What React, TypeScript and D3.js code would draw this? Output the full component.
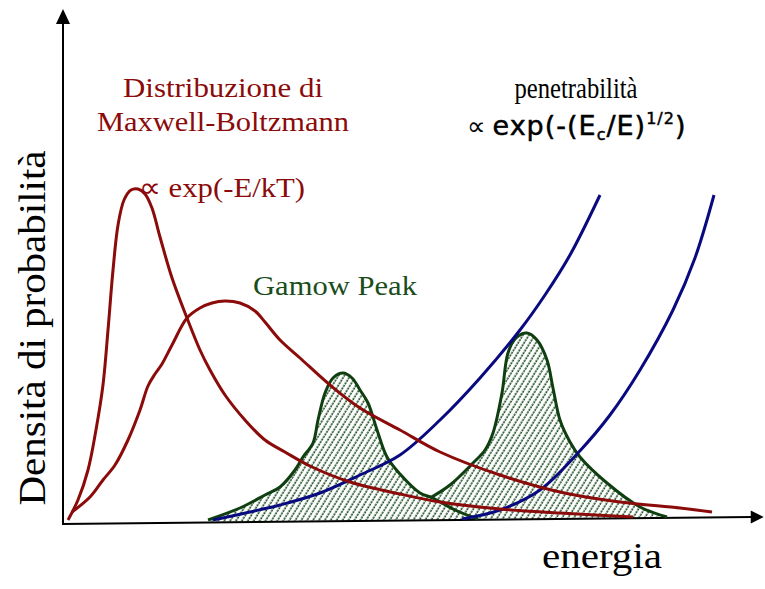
import React from "react";
import * as d3 from "d3";

// Energy (0-100 arbitrary units) and probability density (0-100 arbitrary units)
const mbNarrowE = [0.73, 2.18, 3.64, 4.8, 5.82, 6.55, 7.28, 8.01, 8.88, 9.9, 10.92, 11.94, 12.95, 14.12, 15.87, 18.05, 19.94, 21.4, 23.58, 26.49, 29.4, 32.31, 35.95, 41.78, 49.05, 54.88, 63.61, 72.34, 82.97];
const mbNarrowP = [0.8, 4.8, 10.8, 18.8, 27.8, 38.8, 50.8, 59.8, 64.8, 66.8, 67.0, 66.0, 63.2, 57.4, 49.2, 41.2, 34.8, 30.8, 25.8, 20.8, 16.8, 14.4, 11.6, 8.4, 6.0, 4.4, 3.0, 2.2, 1.4];

const mbWideE = [1.31, 3.93, 5.82, 7.57, 9.46, 11.21, 12.37, 13.39, 14.41, 15.87, 18.05, 19.94, 21.69, 23.58, 25.76, 27.95, 29.4, 31.59, 34.5, 38.86, 43.23, 49.05, 54.88, 63.61, 72.34, 81.08, 89.81, 94.47];
const mbWideP = [2.4, 5.4, 8.8, 11.8, 16.8, 22.8, 27.6, 30.0, 32.0, 35.8, 41.2, 43.2, 44.2, 44.6, 44.2, 42.6, 40.4, 36.8, 33.2, 27.8, 23.2, 18.8, 14.4, 9.8, 6.4, 4.4, 3.2, 2.4];

const pen1E = [21.83, 27.22, 31.59, 37.41, 43.23, 49.05, 54.88, 60.7, 66.52, 70.16, 73.8, 78.17];
const pen1P = [0.8, 2.4, 3.8, 6.2, 9.8, 13.8, 20.8, 29.2, 38.8, 45.8, 53.8, 65.8];

const pen2E = [58.08, 63.61, 69.43, 74.96, 79.62, 83.99, 88.79, 91.99, 94.76];
const pen2P = [1.0, 2.8, 6.8, 14.2, 21.8, 30.8, 42.8, 53.2, 65.8];

const gamow1E = [21.11, 25.76, 29.4, 31.59, 33.77, 34.93, 36.39, 37.12, 38.14, 39.3, 40.76, 42.07, 43.23, 44.4, 45.71, 47.16, 49.05, 51.97, 53.86, 57.06, 60.41];
const gamow1P = [0.8, 3.2, 5.8, 7.4, 10.8, 13.4, 16.2, 20.8, 26.2, 29.2, 30.2, 29.2, 26.8, 24.2, 18.8, 13.4, 10.0, 6.2, 5.2, 2.8, 1.0];

const gamow2E = [53.42, 56.33, 59.68, 61.43, 62.59, 63.9, 64.77, 65.94, 67.54, 68.99, 70.45, 71.32, 72.34, 73.8, 75.25, 79.18, 83.99, 87.92];
const gamow2P = [5.2, 7.8, 12.2, 14.8, 18.2, 26.2, 34.2, 37.2, 38.2, 36.8, 32.8, 27.2, 20.8, 16.4, 13.4, 8.2, 3.4, 1.4];

// axis extents (data units): x axis runs slightly uphill
const xAxisE = [0, 102];
const xAxisP = [0, 1.4];
const yAxisTop = 103;

const RED = "#8b0a0a";
const BLUE = "#0a0a80";
const GREEN = "#0f3f10";
const GREEN_TEXT = "#1b4d1b";

type Pt = [number, number];
const zip = (a: number[], b: number[]): Pt[] => a.map((v, i) => [v, b[i]]);

export default function App() {
  const W = 765;
  const H = 589;
  const x = d3.scaleLinear().domain([0, 100]).range([63, 750]);
  const y = d3.scaleLinear().domain([0, 100]).range([524, 24]);

  const axisBase = (e: number) =>
    xAxisP[0] + ((xAxisP[1] - xAxisP[0]) * (e - xAxisE[0])) / (xAxisE[1] - xAxisE[0]);

  const line = d3
    .line<Pt>()
    .x((d) => x(d[0]))
    .y((d) => y(d[1]))
    .curve(d3.curveCatmullRom.alpha(0.5));

  const area = d3
    .area<Pt>()
    .x((d) => x(d[0]))
    .y0((d) => y(axisBase(d[0])))
    .y1((d) => y(d[1]))
    .curve(d3.curveCatmullRom.alpha(0.5));

  const g1 = zip(gamow1E, gamow1P);
  const g2 = zip(gamow2E, gamow2P);

  const x0 = x(0);
  const y0 = y(0);
  const xEnd = x(xAxisE[1]);
  const yEndX = y(xAxisP[1]);
  const yTop = y(yAxisTop);

  const serif = "'Liberation Serif', 'Times New Roman', serif";
  const sans = "'DejaVu Sans', Verdana, sans-serif";

  return (
    <svg width={W} height={H} style={{ position: "absolute", left: 0, top: 0, background: "#fff" }}>
      <defs>
        <pattern id="hatch" patternUnits="userSpaceOnUse" width={5} height={6} patternTransform="rotate(32)">
          <rect width={5} height={6} fill="#ffffff" />
          <line x1={1.2} y1={0} x2={1.2} y2={6} stroke="#24542a" strokeWidth={1.6} strokeDasharray="2.2 0.8" />
        </pattern>
      </defs>

      {/* hatched Gamow peaks */}
      <path d={area(g1) || ""} fill="url(#hatch)" />
      <path d={area(g2) || ""} fill="url(#hatch)" />

      {/* axes */}
      <line x1={x0} y1={y0} x2={x0} y2={yTop + 14} stroke="#000" strokeWidth={2} />
      <path d={`M${x0},${yTop} L${x0 - 7},${yTop + 15} L${x0 + 7},${yTop + 15} Z`} fill="#000" />
      <line x1={x0 - 1} y1={y0} x2={xEnd - 12} y2={yEndX} stroke="#000" strokeWidth={2} />
      <path d={`M${xEnd},${yEndX} L${xEnd - 13},${yEndX - 6.5} L${xEnd - 13},${yEndX + 6.5} Z`} fill="#000" />

      {/* Gamow outlines */}
      <path d={line(g1) || ""} fill="none" stroke={GREEN} strokeWidth={3} />
      <path d={line(g2) || ""} fill="none" stroke={GREEN} strokeWidth={3} />

      {/* penetrability */}
      <path d={line(zip(pen1E, pen1P)) || ""} fill="none" stroke={BLUE} strokeWidth={3} />
      <path d={line(zip(pen2E, pen2P)) || ""} fill="none" stroke={BLUE} strokeWidth={3} />

      {/* Maxwell-Boltzmann */}
      <path d={line(zip(mbNarrowE, mbNarrowP)) || ""} fill="none" stroke={RED} strokeWidth={3} />
      <path d={line(zip(mbWideE, mbWideP)) || ""} fill="none" stroke={RED} strokeWidth={3} />

      {/* labels */}
      <g fontFamily={serif} fill={RED}>
        <text x={223} y={97} fontSize={28} textAnchor="middle" textLength={200} lengthAdjust="spacingAndGlyphs">
          Distribuzione di
        </text>
        <text x={223} y={131} fontSize={28} textAnchor="middle" textLength={252} lengthAdjust="spacingAndGlyphs">
          Maxwell-Boltzmann
        </text>
        <text x={139} y={197} fontSize={28} textLength={166} lengthAdjust="spacingAndGlyphs">
          ∝ exp(-E/kT)
        </text>
      </g>
      <text x={253} y={295} fontFamily={serif} fontSize={28} fill={GREEN_TEXT} textLength={164} lengthAdjust="spacingAndGlyphs">
        Gamow Peak
      </text>
      <text x={576} y={98} fontFamily={serif} fontSize={29} fill="#000" textAnchor="middle" textLength={123} lengthAdjust="spacingAndGlyphs">
        penetrabilità
      </text>
      <text x={467} y={135} fontFamily={sans} fontSize={27} fill="#000" stroke="#000" strokeWidth={0.5} letterSpacing={1}>
        <tspan fontFamily={serif} fontSize={26} strokeWidth={0} letterSpacing={0}>∝ </tspan>
        <tspan>exp(-(E</tspan>
        <tspan fontSize={16} dy={5}>c</tspan>
        <tspan dy={-5}>/E)</tspan>
        <tspan fontSize={16} dy={-11}>1/2</tspan>
        <tspan dy={11}>)</tspan>
      </text>
      <text x={542} y={568} fontFamily={serif} fontSize={35} fill="#000" textLength={120} lengthAdjust="spacingAndGlyphs">
        energia
      </text>
      <text
        transform="translate(45,328) rotate(-90)"
        fontFamily={serif}
        fontSize={37}
        fill="#000"
        textAnchor="middle"
        textLength={355}
        lengthAdjust="spacingAndGlyphs"
      >
        Densità di probabilità
      </text>
    </svg>
  );
}
